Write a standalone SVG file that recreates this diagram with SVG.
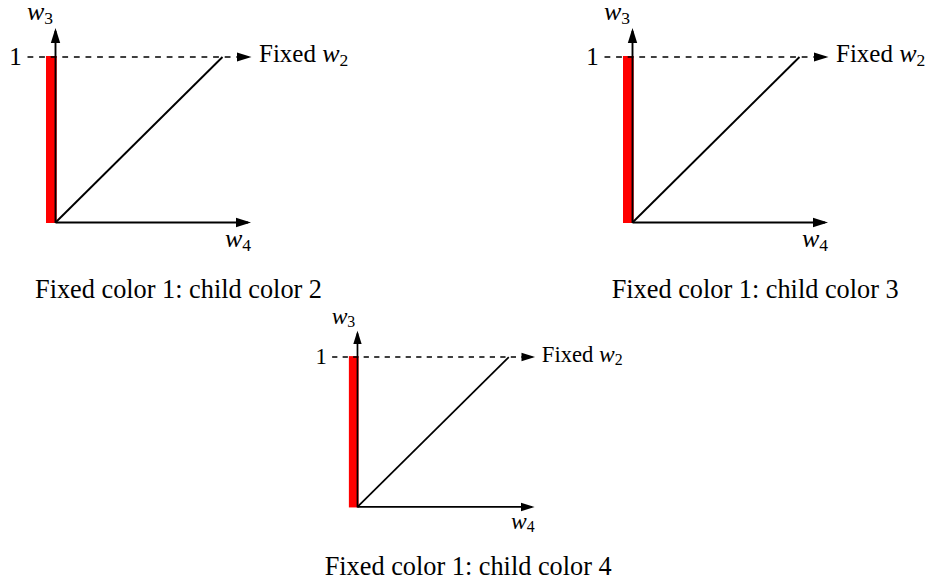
<svg xmlns="http://www.w3.org/2000/svg" width="933" height="588" viewBox="0 0 933 588">
<style>
  .ax { stroke:#000; stroke-width:1.9; fill:none; }
  .dash { stroke:#000; stroke-width:1.7; fill:none; stroke-dasharray:5.8 5.8; }
  .bar { fill:#ff0000; }
  .lbl { font-family:"Liberation Serif","DejaVu Serif",serif; font-size:25px; fill:#000; }
  .math { font-family:"Liberation Serif","DejaVu Serif",serif; font-style:italic; font-size:26px; fill:#000; }
  .sub { font-style:normal; font-size:17.5px; }
  .cap { font-family:"Liberation Serif","DejaVu Serif",serif; font-size:26.3px; fill:#000; }
</style>
<defs>
  <marker id="arr" markerUnits="userSpaceOnUse" markerWidth="18" markerHeight="12" viewBox="0 -6 18 12" refX="12" refY="0" orient="auto">
    <path d="M0,-4.7 L15,0 L0,4.7 Z" fill="#000"/>
  </marker>
  <g id="plot">
    <rect class="bar" x="46" y="56" width="10.7" height="167"/>
    <line class="ax" x1="55.5" y1="223" x2="55.5" y2="31" marker-end="url(#arr)"/>
    <line class="dash" x1="27.5" y1="57" x2="248.5" y2="57" marker-end="url(#arr)"/>
    <line class="ax" x1="55.5" y1="222.5" x2="222.5" y2="57"/>
    <line class="ax" x1="55.5" y1="222.5" x2="248" y2="222.5" marker-end="url(#arr)"/>
    <text class="lbl" x="15.5" y="65" text-anchor="middle">1</text>
    <text class="math" x="27" y="20">w<tspan class="sub" dy="4">3</tspan></text>
    <text class="lbl" x="259" y="62">Fixed <tspan class="math">w</tspan><tspan class="sub" dy="4">2</tspan></text>
    <text class="math" x="225" y="246.5">w<tspan class="sub" dy="4">4</tspan></text>
  </g>
</defs>
<g id="panel1">
  <use href="#plot"/>
  <text class="cap" x="35" y="298">Fixed color 1: child color 2</text>
</g>
<g id="panel2">
  <use href="#plot" transform="translate(577,0)"/>
  <text class="cap" x="611.7" y="298">Fixed color 1: child color 3</text>
</g>
<g id="panel3">
  <use href="#plot" transform="translate(307.2,305.4) scale(0.906)"/>
  <text class="cap" x="324.7" y="575">Fixed color 1: child color 4</text>
</g>
<g id="connectors"/>
</svg>
